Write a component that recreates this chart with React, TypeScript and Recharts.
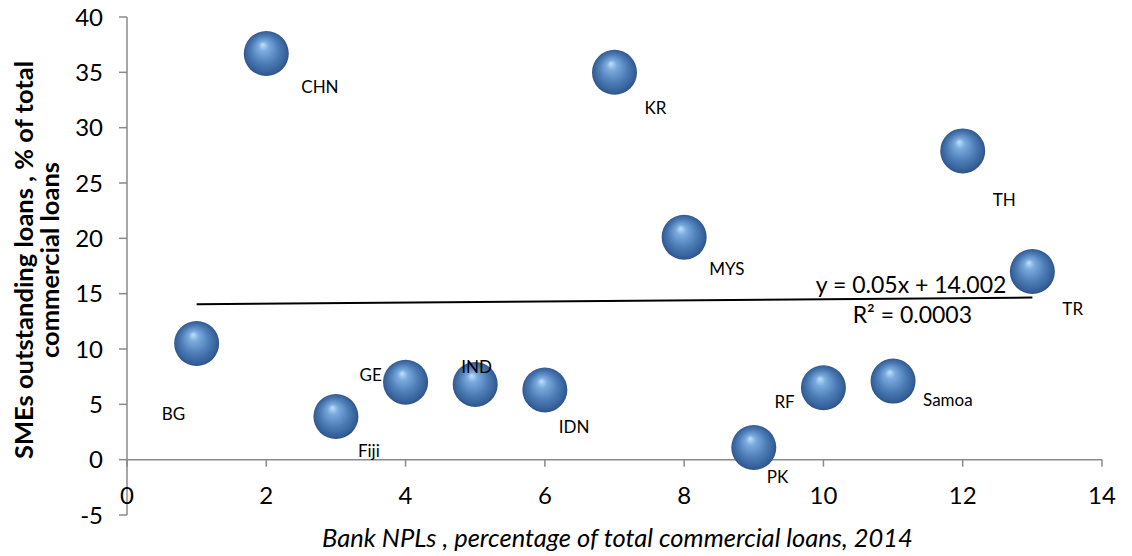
import React from "react";
import {
  ScatterChart,
  Scatter,
  XAxis,
  YAxis,
  ReferenceLine,
  ReferenceDot,
} from "recharts";

// data
const countries = ["BG", "CHN", "Fiji", "GE", "IND", "IDN", "KR", "MYS", "PK", "RF", "Samoa", "TH", "TR"];
const bankNpl = [1, 2, 3, 4, 5, 6, 7, 8, 9, 10, 11, 12, 13];
const smeShare = [10.5, 36.7, 3.9, 7.0, 6.8, 6.3, 35.0, 20.1, 1.1, 6.5, 7.1, 27.9, 17.0];
const xTicks = [0, 2, 4, 6, 8, 10, 12, 14];
const yTicks = [-5, 0, 5, 10, 15, 20, 25, 30, 35, 40];
const trendSlope = 0.05;
const trendIntercept = 14.002;
const trendRange = [1, 13];

// where each country label sits relative to its bubble (px)
const labelOffsets: Record<string, [number, number]> = {
  BG: [-35, 70],
  CHN: [35, 33],
  Fiji: [22, 34],
  GE: [-46, -8],
  IND: [-14, -18],
  IDN: [14, 37],
  KR: [30, 35],
  MYS: [25, 31],
  PK: [13, 29],
  RF: [-49, 14],
  Samoa: [30, 18],
  TH: [30, 49],
  TR: [30, 37],
};

const data = countries.map((name, i) => ({ name, x: bankNpl[i], y: smeShare[i] }));
const trendY = (x: number) => trendSlope * x + trendIntercept;

const WIDTH = 1116;
const HEIGHT = 548;
const MARGIN = { top: 9, right: 22, left: 0, bottom: 0 };
const X_AXIS_H = 41;
const PLOT_H = HEIGHT - MARGIN.top - MARGIN.bottom - X_AXIS_H;
const Y0 = MARGIN.top + PLOT_H * (40 / 45); // pixel row of y = 0
const FONT = "Lato, 'Open Sans', sans-serif";
const AXIS = "#8a8a8a";

function Sphere(props: any) {
  const { cx, cy, payload, index } = props;
  const id = `sph-${index}`;
  const off = labelOffsets[payload.name] || [20, 20];
  return (
    <g>
      <defs>
        <radialGradient id={id} cx="50%" cy="50%" r="52%" fx="42%" fy="30%">
          <stop offset="0%" stopColor="#c2e0fa" />
          <stop offset="22%" stopColor="#7aaadd" />
          <stop offset="60%" stopColor="#4d7db6" />
          <stop offset="88%" stopColor="#36609a" />
          <stop offset="100%" stopColor="#2b4f80" />
        </radialGradient>
      </defs>
      <circle cx={cx} cy={cy} r={22.5} fill={`url(#${id})`} />
      <text
        x={cx + off[0]}
        y={cy + off[1]}
        dominantBaseline="central"
        fontFamily={FONT}
        fontSize={17}
        fill="#000"
      >
        {payload.name}
      </text>
    </g>
  );
}

function XTick(props: any) {
  const { x, payload } = props;
  return (
    <g>
      <line x1={x} x2={x} y1={Y0} y2={Y0 + 7} stroke={AXIS} strokeWidth={1.5} />
      <text
        x={x}
        y={Y0 + 35}
        textAnchor="middle"
        dominantBaseline="central"
        fontFamily={FONT}
        fontSize={24}
        fill="#000"
      >
        {payload.value}
      </text>
    </g>
  );
}

function YTitle(props: any) {
  const vb = props.viewBox || { y: 0, height: 0 };
  const cy = vb.y + vb.height / 2 - 6;
  return (
    <g fontFamily={FONT} fontSize={25.5} fontWeight="bold" fill="#000">
      <text x={15} y={cy} transform={`rotate(-90, 15, ${cy})`} textAnchor="middle" dominantBaseline="central">
        SMEs outstanding loans , % of total
      </text>
      <text x={41} y={cy} transform={`rotate(-90, 41, ${cy})`} textAnchor="middle" dominantBaseline="central">
        commercial loans
      </text>
    </g>
  );
}

function XTitle(props: any) {
  const vb = props.viewBox || { x: 0, width: 0 };
  return (
    <text
      x={vb.x + vb.width / 2 + 3}
      y={529}
      textAnchor="middle"
      dominantBaseline="central"
      fontFamily={FONT}
      fontSize={25.5}
      fontStyle="italic"
      fill="#000"
    >
      Bank NPLs , percentage of total commercial loans, 2014
    </text>
  );
}

function EquationLabel(props: any) {
  const vb = props.viewBox || { x: 0, y: 0, width: 0, height: 0 };
  const ex = vb.x + vb.width / 2;
  const ey = vb.y + vb.height / 2;
  return (
    <g fontFamily={FONT} fontSize={23} fill="#000">
      <text x={ex - 26} y={ey - 14} textAnchor="end" dominantBaseline="central">
        y = 0.05x + 14.002
      </text>
      <text x={ex - 120} y={ey + 16} textAnchor="middle" dominantBaseline="central">
        R² = 0.0003
      </text>
    </g>
  );
}

export default function App() {
  return (
    <div style={{ width: WIDTH, height: HEIGHT }}>
      <ScatterChart width={WIDTH} height={HEIGHT} margin={MARGIN}>
        <XAxis
          type="number"
          dataKey="x"
          domain={[0, 14]}
          ticks={xTicks}
          height={X_AXIS_H}
          axisLine={false}
          tickLine={false}
          tick={<XTick />}
          interval={0}
          label={{ content: <XTitle /> }}
        />
        <YAxis
          type="number"
          dataKey="y"
          domain={[-5, 40]}
          ticks={yTicks}
          width={119}
          interval={0}
          axisLine={{ stroke: AXIS, strokeWidth: 1.5 }}
          tickLine={{ stroke: AXIS, strokeWidth: 1.5 }}
          tickSize={8}
          tickMargin={16}
          tick={{ fontFamily: FONT, fontSize: 24, fill: "#000" }}
          label={{ content: <YTitle /> }}
        />
        <ReferenceLine y={0} stroke={AXIS} strokeWidth={1.5} />
        <ReferenceLine
          segment={[
            { x: trendRange[0], y: trendY(trendRange[0]) },
            { x: trendRange[1], y: trendY(trendRange[1]) },
          ]}
          stroke="#000"
          strokeWidth={2}
        />
        <ReferenceDot
          x={trendRange[1]}
          y={trendY(trendRange[1])}
          r={0}
          fill="none"
          stroke="none"
          label={{ content: <EquationLabel /> }}
        />
        <Scatter data={data} shape={<Sphere />} isAnimationActive={false} />
      </ScatterChart>
    </div>
  );
}
